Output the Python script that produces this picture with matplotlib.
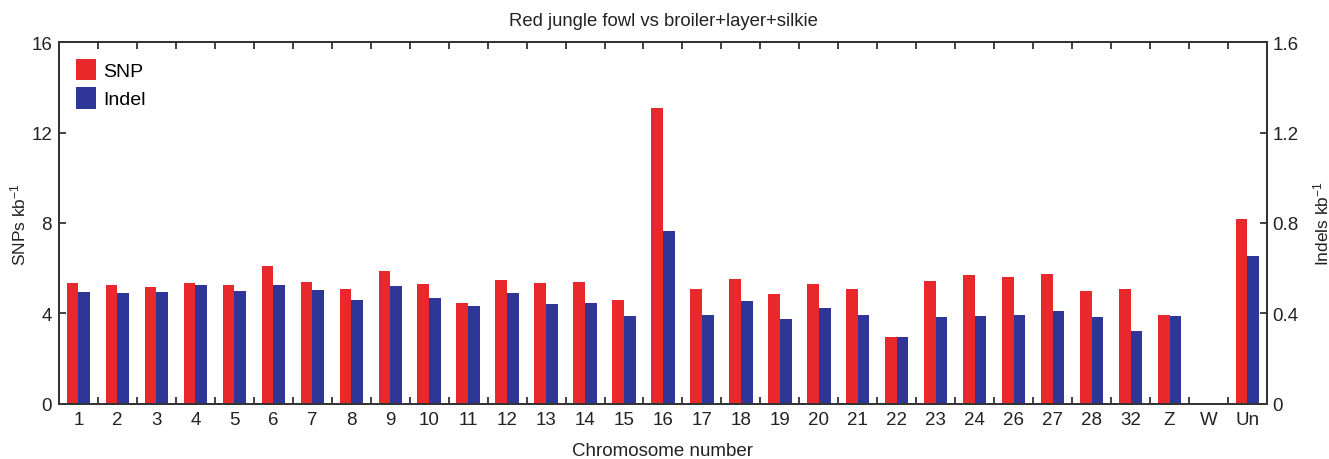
import numpy as np
import matplotlib
matplotlib.use("Agg")
import matplotlib.pyplot as plt

# ---- Data ----
chromosomes = ['1', '2', '3', '4', '5', '6', '7', '8', '9', '10', '11', '12', '13', '14', '15',
               '16', '17', '18', '19', '20', '21', '22', '23', '24', '26', '27', '28', '32',
               'Z', 'W', 'Un']
snp_per_kb = [5.35, 5.24, 5.17, 5.35, 5.24, 6.10, 5.38, 5.07, 5.86, 5.32, 4.46, 5.49, 5.35,
              5.39, 4.60, 13.09, 5.07, 5.54, 4.86, 5.29, 5.10, 2.95, 5.42, 5.68, 5.60, 5.76,
              5.00, 5.07, 3.95, 0.0, 8.17]
indel_per_kb = [0.495, 0.490, 0.495, 0.524, 0.500, 0.526, 0.505, 0.460, 0.521, 0.468, 0.433,
                0.490, 0.443, 0.446, 0.387, 0.764, 0.395, 0.454, 0.376, 0.424, 0.393, 0.295,
                0.384, 0.389, 0.395, 0.412, 0.384, 0.323, 0.389, 0.0, 0.652]

red = '#E8282B'
blue = '#2E3797'
ink = '#222222'

plt.rcParams['font.family'] = ['Liberation Sans', 'DejaVu Sans']
plt.rcParams['mathtext.default'] = 'regular'

# ---- Layout ----
fig = plt.figure(figsize=(13.29, 4.6), dpi=100)
ax = fig.add_axes([0.0444, 0.1196, 0.9089, 0.7869])
ax2 = ax.twinx()

x = np.arange(len(chromosomes))
w = 0.3
ax.bar(x - w / 2, snp_per_kb, width=w, color=red, label='SNP', zorder=2)
ax2.bar(x + w / 2, indel_per_kb, width=w, color=blue, label='Indel', zorder=2)

ax.set_xlim(-0.5, len(chromosomes) - 0.5)
ax.set_ylim(0, 16)
ax2.set_ylim(0, 1.6)
ax.set_yticks([0, 4, 8, 12, 16])
ax2.set_yticks([0, 0.4, 0.8, 1.2, 1.6])
ax2.set_yticklabels(['0', '0.4', '0.8', '1.2', '1.6'])

# boundary ticks (major, no label) and centred labels (minor, no tick)
ax.set_xticks(x[:-1] + 0.5)
ax.set_xticklabels([])
ax.set_xticks(x, minor=True)
ax.set_xticklabels(chromosomes, minor=True)
ax.tick_params(axis='x', which='major', direction='in', length=5, width=1.3,
               top=True, bottom=True, color='#333333')
ax.tick_params(axis='x', which='minor', length=0, pad=5, labelsize=13.5, labelcolor=ink)
ax.tick_params(axis='y', direction='in', length=5, width=1.3, pad=5,
               labelsize=13.5, labelcolor=ink, color='#333333')
ax2.tick_params(axis='y', direction='in', length=5, width=1.3, pad=4,
                labelsize=13.5, labelcolor=ink, color='#333333')

for a in (ax, ax2):
    for s in a.spines.values():
        s.set_linewidth(1.3)
        s.set_color('#333333')

ax.set_xlabel('Chromosome number', fontsize=13.5, color=ink, labelpad=10)
ax.set_ylabel('SNPs kb$^{-1}$', fontsize=12.5, color=ink, labelpad=2)
ax2.set_ylabel('Indels kb$^{-1}$', fontsize=12.5, color=ink, labelpad=9)
ax.set_title('Red jungle fowl vs broiler+layer+silkie', fontsize=13.3, color=ink, pad=12)

h1, l1 = ax.get_legend_handles_labels()
h2, l2 = ax2.get_legend_handles_labels()
ax2.legend(h1 + h2, l1 + l2, loc='upper left', frameon=False, fontsize=14,
           handlelength=1.03, handleheight=1.33, labelspacing=0.36, handletextpad=0.4,
           borderaxespad=0.55, borderpad=0.3)

plt.savefig('out.png', dpi=100)
